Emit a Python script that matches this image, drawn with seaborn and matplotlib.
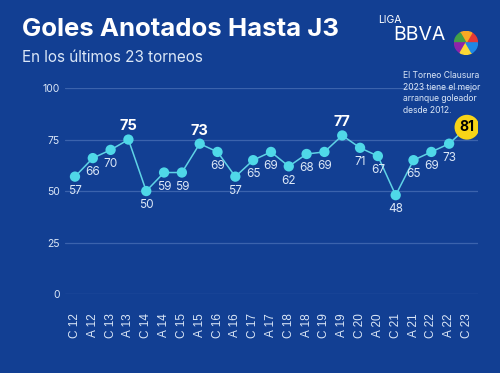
import matplotlib.pyplot as plt
import seaborn as sns
import pandas as pd
from matplotlib.patches import Wedge

# data
torneos = ["C 12", "A 12", "C 13", "A 13", "C 14", "A 14", "C 15", "A 15", "C 16", "A 16",
           "C 17", "A 17", "C 18", "A 18", "C 19", "A 19", "C 20", "A 20", "C 21", "A 21",
           "C 22", "A 22", "C 23"]
goles = [57, 66, 70, 75, 50, 59, 59, 73, 69, 57, 65, 69, 62, 68, 69, 77, 71, 67, 48, 65, 69, 73, 81]
destacados = ["A 13", "A 15", "A 19"]
y_ticks = [0, 25, 50, 75, 100]

BG = "#123f93"
LINE = "#5fd3e6"
GRID = "#3b63ad"
TXT = "#dbe7f7"

sns.set_style("white")
plt.rcParams["font.family"] = ["Inter", "DejaVu Sans"]

df = pd.DataFrame({"torneo": torneos, "goles": goles})
df["pos"] = range(len(df))

fig = plt.figure(figsize=(5, 3.73), dpi=100, facecolor=BG)
ax = fig.add_axes([0.13, 0.2118, 0.826, 0.552], facecolor=BG)

sns.lineplot(data=df, x="pos", y="goles", color=LINE, lw=1.1, ax=ax, zorder=3)
sns.scatterplot(data=df.iloc[:-1], x="pos", y="goles", color="#4fd8e8", s=55,
                edgecolor="none", ax=ax, zorder=4)

for _, r in df.iterrows():
    if r["torneo"] in destacados:
        ax.text(r["pos"], r["goles"] + 3, str(r["goles"]), ha="center", va="bottom",
                color="white", fontsize=10.5, fontweight="bold", zorder=5)
    elif r["pos"] == len(df) - 1:
        ax.scatter(r["pos"], r["goles"], s=320, color="#f7d417", edgecolor="none", zorder=5)
        ax.text(r["pos"], r["goles"], str(r["goles"]), ha="center", va="center",
                color="black", fontsize=10, fontweight="bold", zorder=6)
    else:
        ax.text(r["pos"], r["goles"] - 4, str(r["goles"]), ha="center", va="top",
                color=TXT, fontsize=8.5, zorder=5)

ax.set_xlim(-0.56, 22.62)
ax.set_ylim(0, 100)
ax.set_yticks(y_ticks)
ax.set_xticks(df["pos"])
ax.set_xticklabels(torneos, rotation=90, family="Liberation Sans", fontsize=8.5, color=TXT)
ax.tick_params(axis="y", labelsize=7.5, labelcolor=TXT, length=0, pad=4)
ax.tick_params(axis="x", length=0, pad=14)
ax.grid(axis="y", color=GRID, lw=0.9)
ax.set_axisbelow(True)
sns.despine(ax=ax, left=True, bottom=True, top=True, right=True)
ax.set_xlabel("")
ax.set_ylabel("")

fig.text(0.044, 0.922, "Goles Anotados Hasta J3", color="white", fontsize=18.5,
         fontweight="bold", va="center")
fig.text(0.044, 0.847, "En los últimos 23 torneos", color=TXT, fontsize=11, va="center")

fig.text(0.806, 0.81, "El Torneo Clausura\n2023 tiene el mejor\narranque goleador\ndesde 2012.",
         color=TXT, fontsize=6.2, va="top", ha="left", linespacing=1.4)

# logo
fig.text(0.756, 0.946, "LIGA", color="white", fontsize=7.5, va="center")
fig.text(0.786, 0.907, "BBVA", color="white", fontsize=14, va="center")
colors = ["#e53935", "#f9a825", "#43a047", "#8e24aa", "#fdd835", "#1e88e5"]
lax = fig.add_axes([0.908, 0.853, 0.048, 0.064], facecolor="none")
for i, c in enumerate(colors):
    lax.add_patch(Wedge((0.5, 0.5), 0.48, i * 60, (i + 1) * 60, color=c))
lax.set_xlim(0, 1)
lax.set_ylim(0, 1)
lax.axis("off")

fig.savefig("out.png", dpi=100, facecolor=BG)
